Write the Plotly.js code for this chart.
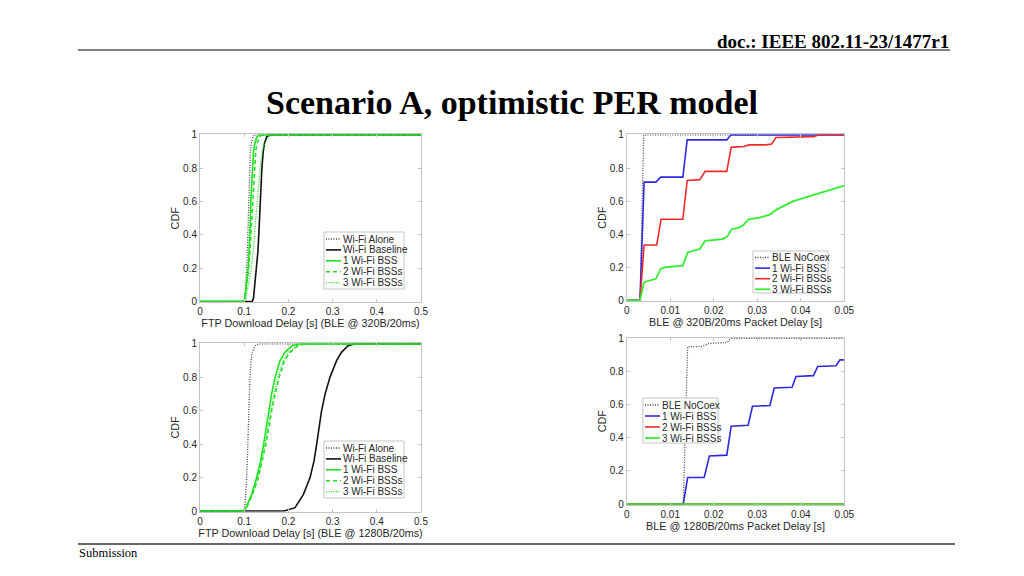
<!DOCTYPE html>
<html>
<head>
<meta charset="utf-8">
<script src="https://cdn.plot.ly/plotly-3.0.1.min.js"></script>
<style>html,body{margin:0;padding:0;background:#fff;}#chart{width:1024px;height:576px;}</style>
</head>
<body>
<div id="chart"></div>
<script>
// ---------- DATA ----------
const wifiNames = ["Wi-Fi Alone", "Wi-Fi Baseline", "1 Wi-Fi BSS", "2 Wi-Fi BSSs", "3 Wi-Fi BSSs"];
const bleNames = ["BLE NoCoex", "1 Wi-Fi BSS", "2 Wi-Fi BSSs", "3 Wi-Fi BSSs"];

// common CDF levels for FTP delay curves
const cdfLevels = [0, 0, 0.02, 0.1, 0.2, 0.3, 0.4, 0.5, 0.6, 0.7, 0.8, 0.9, 0.95, 0.99, 1, 1];

// FTP download delay, BLE @ 320B/20ms
const ftp320_alone    = [0, 0.099, 0.1015, 0.104, 0.1056, 0.107, 0.108, 0.109, 0.110, 0.111, 0.1125, 0.114, 0.116, 0.120, 0.123, 0.5];
const ftp320_baseline = [0, 0.118, 0.121, 0.124, 0.128, 0.131, 0.133, 0.1345, 0.136, 0.138, 0.140, 0.143, 0.146, 0.151, 0.157, 0.5];
const ftp320_bss1     = [0, 0.099, 0.1015, 0.105, 0.109, 0.111, 0.113, 0.114, 0.115, 0.117, 0.119, 0.121, 0.124, 0.129, 0.134, 0.5];
const ftp320_bss2     = [0, 0.099, 0.102, 0.106, 0.110, 0.113, 0.115, 0.117, 0.119, 0.121, 0.123, 0.126, 0.129, 0.135, 0.140, 0.5];
const ftp320_bss3     = [0, 0.100, 0.104, 0.110, 0.116, 0.120, 0.123, 0.126, 0.129, 0.132, 0.136, 0.141, 0.146, 0.155, 0.165, 0.5];

// FTP download delay, BLE @ 1280B/20ms
const ftp1280_alone    = [0, 0.099, 0.1015, 0.104, 0.1056, 0.107, 0.108, 0.109, 0.110, 0.111, 0.113, 0.1154, 0.118, 0.125, 0.132, 0.5];
const ftp1280_baseline = [0, 0.190, 0.215, 0.234, 0.249, 0.258, 0.264, 0.269, 0.275, 0.283, 0.294, 0.309, 0.320, 0.335, 0.350, 0.5];
const ftp1280_bss1     = [0, 0.099, 0.104, 0.117, 0.128, 0.137, 0.144, 0.150, 0.156, 0.162, 0.170, 0.181, 0.192, 0.208, 0.222, 0.5];
const ftp1280_bss2     = [0, 0.099, 0.105, 0.119, 0.132, 0.141, 0.149, 0.156, 0.162, 0.170, 0.179, 0.191, 0.204, 0.222, 0.237, 0.5];
const ftp1280_bss3     = [0, 0.099, 0.105, 0.118, 0.131, 0.140, 0.147, 0.154, 0.160, 0.167, 0.176, 0.188, 0.200, 0.218, 0.232, 0.5];

// BLE packet delay, 320B/20ms
const ble320_nocoex_x = [0, 0.00306, 0.0039, 0.05];
const ble320_nocoex_y = [0, 0, 1, 1];
const ble320_bss1_x = [0, 0.00306, 0.0040, 0.0067, 0.0078, 0.0129, 0.0139, 0.0230, 0.0239, 0.05];
const ble320_bss1_y = [0, 0, 0.715, 0.715, 0.745, 0.745, 0.97, 0.97, 1, 1];
const ble320_bss2_x = [0, 0.00306, 0.0040, 0.0069, 0.0079, 0.0129, 0.0139, 0.0168, 0.0180, 0.0230, 0.0240, 0.0270, 0.0280, 0.0320, 0.0333, 0.0343, 0.0430, 0.0440, 0.05];
const ble320_bss2_y = [0, 0, 0.335, 0.335, 0.49, 0.49, 0.725, 0.73, 0.78, 0.78, 0.925, 0.93, 0.94, 0.94, 0.945, 0.985, 0.99, 1, 1];
const ble320_bss3_x = [0, 0.00306, 0.0040, 0.0067, 0.0078, 0.0090, 0.0129, 0.0140, 0.0168, 0.0180, 0.0220, 0.0231, 0.0241, 0.0258, 0.0268, 0.0280, 0.0306, 0.0330, 0.0345, 0.0360, 0.0383, 0.0400, 0.0420, 0.0439, 0.0456, 0.0482, 0.0493, 0.05];
const ble320_bss3_y = [0, 0, 0.11, 0.13, 0.19, 0.20, 0.21, 0.29, 0.31, 0.36, 0.37, 0.385, 0.43, 0.44, 0.455, 0.49, 0.50, 0.52, 0.55, 0.57, 0.60, 0.614, 0.63, 0.648, 0.66, 0.68, 0.688, 0.694];

// BLE packet delay, 1280B/20ms
const ble1280_nocoex_x = [0, 0.0130, 0.0140, 0.0172, 0.0180, 0.0191, 0.0230, 0.0240, 0.05];
const ble1280_nocoex_y = [0, 0, 0.95, 0.95, 0.96, 0.97, 0.975, 1, 1];
const ble1280_bss1_x = [0, 0.0130, 0.0140, 0.0178, 0.0190, 0.0230, 0.0240, 0.0279, 0.0289, 0.0329, 0.0339, 0.0380, 0.0389, 0.0429, 0.0439, 0.0481, 0.0490, 0.05];
const ble1280_bss1_y = [0, 0, 0.16, 0.16, 0.29, 0.295, 0.47, 0.475, 0.59, 0.595, 0.70, 0.705, 0.77, 0.775, 0.83, 0.835, 0.87, 0.87];
const ble1280_bss2_x = [0, 0.05];
const ble1280_bss2_y = [0, 0];
const ble1280_bss3_x = [0, 0.05];
const ble1280_bss3_y = [0, 0];

const yTickVals = [0, 0.2, 0.4, 0.6, 0.8, 1];
const yTickText = ["0", "0.2", "0.4", "0.6", "0.8", "1"];
const ftpTickVals = [0, 0.1, 0.2, 0.3, 0.4, 0.5];
const bleTickVals = [0, 0.01, 0.02, 0.03, 0.04, 0.05];

// ---------- STYLES ----------
const FONT = "Liberation Sans, Arial, Helvetica, sans-serif";
const SERIF = "Liberation Serif, Times New Roman, serif";
const DOT = "1px,1.5px";
const wifiStyles = [
  {color: "#444444", dash: DOT, width: 1.3},
  {color: "#111111", dash: "solid", width: 1.6},
  {color: "#22e022", dash: "solid", width: 1.6},
  {color: "#22e022", dash: "4px,3px", width: 1.6},
  {color: "#22e022", dash: DOT, width: 1.3}
];
const bleStyles = [
  {color: "#444444", dash: DOT, width: 1.3},
  {color: "#2b2bdd", dash: "solid", width: 1.6},
  {color: "#ee2b2b", dash: "solid", width: 1.6},
  {color: "#33ee33", dash: "solid", width: 1.8}
];

function tr(x, y, style, name, xa, ya) {
  return {x: x, y: y, type: "scatter", mode: "lines", name: name, showlegend: false,
    xaxis: xa, yaxis: ya, line: {color: style.color, dash: style.dash, width: style.width}, hoverinfo: "skip"};
}

const traces = [];
[ftp320_alone, ftp320_baseline, ftp320_bss1, ftp320_bss2, ftp320_bss3].forEach((xs, i) =>
  traces.push(tr(xs, cdfLevels, wifiStyles[i], wifiNames[i], "x", "y")));
[[ble320_nocoex_x, ble320_nocoex_y], [ble320_bss1_x, ble320_bss1_y], [ble320_bss2_x, ble320_bss2_y], [ble320_bss3_x, ble320_bss3_y]]
  .forEach((d, i) => traces.push(tr(d[0], d[1], bleStyles[i], bleNames[i], "x2", "y2")));
[ftp1280_alone, ftp1280_baseline, ftp1280_bss1, ftp1280_bss2, ftp1280_bss3].forEach((xs, i) =>
  traces.push(tr(xs, cdfLevels, wifiStyles[i], wifiNames[i], "x3", "y3")));
[[ble1280_nocoex_x, ble1280_nocoex_y], [ble1280_bss1_x, ble1280_bss1_y], [ble1280_bss2_x, ble1280_bss2_y], [ble1280_bss3_x, ble1280_bss3_y]]
  .forEach((d, i) => traces.push(tr(d[0], d[1], bleStyles[i], bleNames[i], "x4", "y4")));

const W = 1024, H = 576;
const px = v => v / W, py = v => 1 - v / H;

function xaxis(domain, range, ticks, title, anchor) {
  return {domain: domain, range: range, tickvals: ticks, anchor: anchor,
    showline: true, mirror: "ticks", linecolor: "#c4c4c4", linewidth: 1,
    ticks: "inside", ticklen: 3, tickcolor: "#c4c4c4", showgrid: false, zeroline: false,
    tickfont: {family: FONT, size: 10, color: "#262626"},
    title: {text: title, font: {family: FONT, size: 10.8, color: "#262626"}, standoff: 3}, fixedrange: true};
}
function yaxis(domain, anchor) {
  return {domain: domain, range: [-0.004, 1.004], tickvals: yTickVals, ticktext: yTickText, anchor: anchor,
    showline: true, mirror: "ticks", linecolor: "#c4c4c4", linewidth: 1,
    ticks: "inside", ticklen: 3, tickcolor: "#c4c4c4", showgrid: false, zeroline: false,
    tickfont: {family: FONT, size: 10, color: "#262626"},
    title: {text: "CDF", font: {family: FONT, size: 10.8, color: "#262626"}, standoff: 1}, fixedrange: true};
}

const shapes = [
  {type: "line", xref: "paper", yref: "paper", x0: px(78), x1: px(950), y0: py(50), y1: py(50), line: {color: "#555", width: 1.5}},
  {type: "line", xref: "paper", yref: "paper", x0: px(78), x1: px(955), y0: py(544), y1: py(544), line: {color: "#666", width: 2}}
];
const annotations = [
  {xref: "paper", yref: "paper", x: px(951), y: py(41), xanchor: "right", yanchor: "middle", showarrow: false,
   text: "<b>doc.: IEEE 802.11-23/1477r1</b>", font: {family: SERIF, size: 19, color: "#000"}},
  {xref: "paper", yref: "paper", x: px(512), y: py(103), xanchor: "center", yanchor: "middle", showarrow: false,
   text: "<b>Scenario A, optimistic PER model</b>", font: {family: SERIF, size: 34, color: "#000"}},
  {xref: "paper", yref: "paper", x: px(77), y: py(553), xanchor: "left", yanchor: "middle", showarrow: false,
   text: "Submission", font: {family: SERIF, size: 12.5, color: "#000"}}
];

// custom compact legends (MATLAB style)
function addLegend(names, styles, box, firstRow, rowStep, lineX0, lineX1, textX) {
  shapes.push({type: "rect", xref: "paper", yref: "paper", x0: px(box[0]), x1: px(box[1]), y0: py(box[2]), y1: py(box[3]),
    line: {color: "#c4c4c4", width: 1}, fillcolor: "#fff"});
  names.forEach((n, i) => {
    const yy = firstRow + i * rowStep;
    shapes.push({type: "line", xref: "paper", yref: "paper", x0: px(lineX0), x1: px(lineX1), y0: py(yy), y1: py(yy),
      line: {color: styles[i].color, dash: styles[i].dash, width: styles[i].width}});
    annotations.push({xref: "paper", yref: "paper", x: px(textX), y: py(yy), xanchor: "left", yanchor: "middle", showarrow: false,
      text: n, font: {family: FONT, size: 10, color: "#262626"}});
  });
}
addLegend(wifiNames, wifiStyles, [324, 404, 232, 289], 239, 10.9, 326, 341, 341);
addLegend(bleNames, bleStyles, [753, 828, 251, 293], 257.5, 10.6, 755, 770, 770);
addLegend(wifiNames, wifiStyles, [324, 404, 441, 498], 448, 10.9, 326, 341, 341);
addLegend(bleNames, bleStyles, [643, 718, 398, 443], 405, 11, 645, 660, 660);

const layout = {
  width: W, height: H, margin: {l: 0, r: 0, t: 0, b: 0}, paper_bgcolor: "#fff", plot_bgcolor: "#fff",
  showlegend: false,
  xaxis: xaxis([px(200), px(421)], [0, 0.5], ftpTickVals, "FTP Download Delay [s] (BLE @ 320B/20ms)", "y"),
  yaxis: yaxis([py(302.3), py(134.3)], "x"),
  xaxis2: xaxis([px(626.7), px(844.3)], [0, 0.05], bleTickVals, "BLE @ 320B/20ms Packet Delay [s]", "y2"),
  yaxis2: yaxis([py(301), py(134.3)], "x2"),
  xaxis3: xaxis([px(200), px(421)], [0, 0.5], ftpTickVals, "FTP Download Delay [s] (BLE @ 1280B/20ms)", "y3"),
  yaxis3: yaxis([py(511.7), py(343.3)], "x3"),
  xaxis4: xaxis([px(626.7), px(844.3)], [0, 0.05], bleTickVals, "BLE @ 1280B/20ms Packet Delay [s]", "y4"),
  yaxis4: yaxis([py(504.7), py(337.7)], "x4"),
  shapes: shapes, annotations: annotations
};

Plotly.newPlot("chart", traces, layout, {staticPlot: true, displayModeBar: false});
</script>
</body>
</html>
